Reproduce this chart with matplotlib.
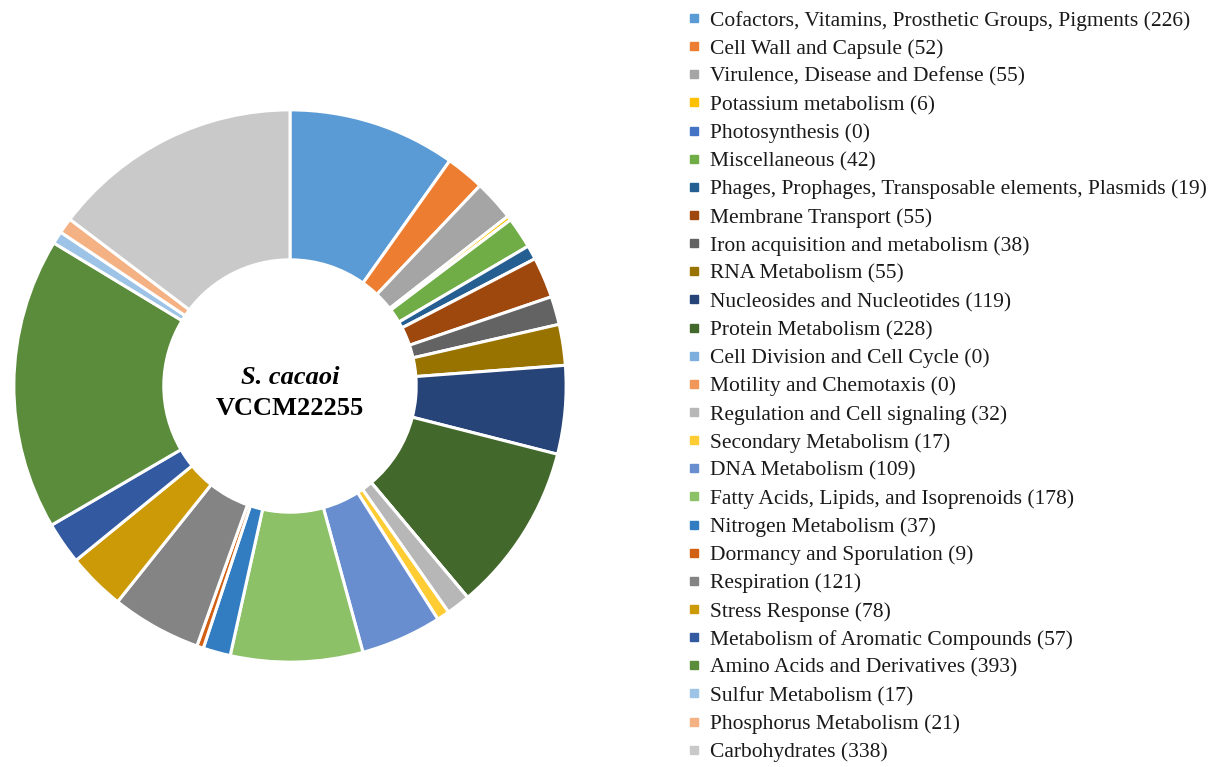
import matplotlib.pyplot as plt
from matplotlib.lines import Line2D

plt.rcParams['font.family'] = ['Liberation Serif', 'DejaVu Serif']

# SEED subsystem categories and gene counts
categories = [
    "Cofactors, Vitamins, Prosthetic Groups, Pigments",
    "Cell Wall and Capsule",
    "Virulence, Disease and Defense",
    "Potassium metabolism",
    "Photosynthesis",
    "Miscellaneous",
    "Phages, Prophages, Transposable elements, Plasmids",
    "Membrane Transport",
    "Iron acquisition and metabolism",
    "RNA Metabolism",
    "Nucleosides and Nucleotides",
    "Protein Metabolism",
    "Cell Division and Cell Cycle",
    "Motility and Chemotaxis",
    "Regulation and Cell signaling",
    "Secondary Metabolism",
    "DNA Metabolism",
    "Fatty Acids, Lipids, and Isoprenoids",
    "Nitrogen Metabolism",
    "Dormancy and Sporulation",
    "Respiration",
    "Stress Response",
    "Metabolism of Aromatic Compounds",
    "Amino Acids and Derivatives",
    "Sulfur Metabolism",
    "Phosphorus Metabolism",
    "Carbohydrates",
]
counts = [226, 52, 55, 6, 0, 42, 19, 55, 38, 55, 119, 228, 0, 0, 32, 17,
          109, 178, 37, 9, 121, 78, 57, 393, 17, 21, 338]

colors = [
    "#5B9BD5", "#ED7D31", "#A5A5A5", "#FFC000", "#4472C4", "#70AD47",
    "#255E91", "#9E480E", "#636363", "#997300", "#264478", "#43682B",
    "#7CAFDD", "#F1975A", "#B7B7B7", "#FFCD33", "#698ED0", "#8CC168",
    "#327DC2", "#D26012", "#848484", "#CC9A06", "#335AA1", "#5B8C3B",
    "#9DC3E6", "#F4B183", "#C9C9C9",
]

labels = [f"{c} ({n})" for c, n in zip(categories, counts)]

fig = plt.figure(figsize=(12.21, 7.67), dpi=100)

# donut
ax = fig.add_axes([10 / 1221, 101 / 767, 560 / 1221, 560 / 767])
ax.pie(counts, colors=colors, startangle=90, counterclock=False,
       wedgeprops=dict(width=0.543, edgecolor="white", linewidth=2.2))
ax.set_xlim(-1.014, 1.014)
ax.set_ylim(-1.014, 1.014)
ax.set_aspect("equal")

ax.text(0, 0.03, "S. cacaoi", ha="center", va="center",
        fontsize=19, fontweight="bold", fontstyle="italic")
ax.text(0, -0.08, "VCCM22255", ha="center", va="center",
        fontsize=19, fontweight="bold")

# legend with small square markers
handles = [Line2D([], [], linestyle="none", marker="s", markersize=5.3,
                  markerfacecolor=c, markeredgecolor=c) for c in colors]
leg = fig.legend(handles, labels, loc="upper left",
                 bbox_to_anchor=(688 / 1221, 1 - 10.5 / 767), frameon=False,
                 fontsize=15.5, handlelength=0.6, handletextpad=0.4,
                 labelspacing=0.375, borderpad=0, borderaxespad=0)
for t in leg.get_texts():
    t.set_color("#1a1a1a")

fig.savefig("out.png", dpi=100)
